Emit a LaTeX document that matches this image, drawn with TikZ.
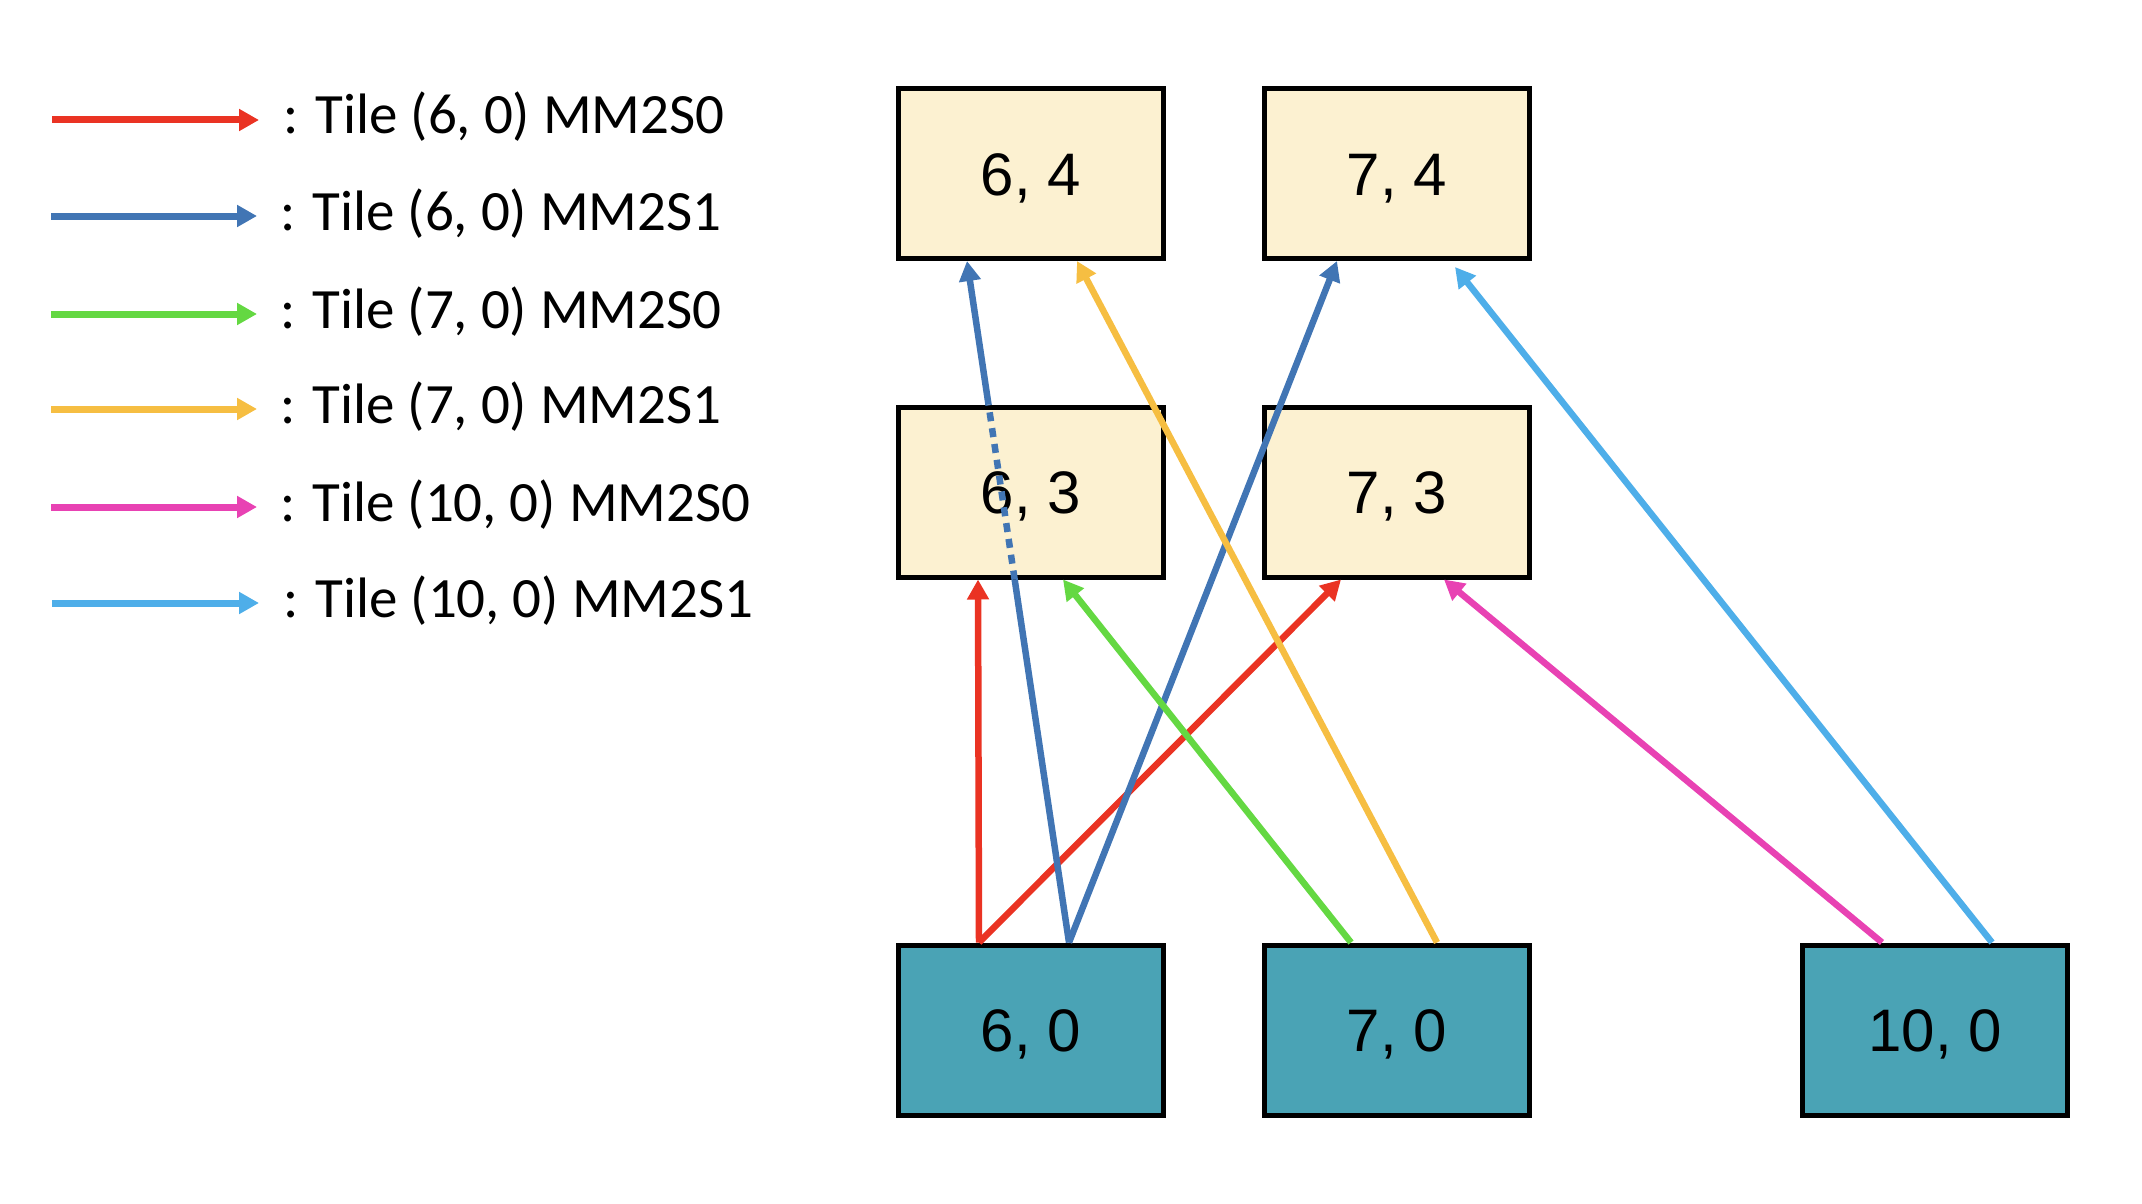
\documentclass[tikz,border=0pt]{standalone}
\usepackage{fontspec}
\setmainfont{Liberation Sans}
\newfontfamily\legendfont{Carlito}
\usetikzlibrary{arrows.meta,calc}
\definecolor{cred}{HTML}{EA3323}
\definecolor{cblue}{HTML}{4175B4}
\definecolor{cgreen}{HTML}{64D842}
\definecolor{cyellow}{HTML}{F6BE42}
\definecolor{cpink}{HTML}{E842B3}
\definecolor{clblue}{HTML}{4EAEE9}
\definecolor{cream}{HTML}{FCF1D1}
\definecolor{teal}{HTML}{4AA3B5}
\begin{document}
\begin{tikzpicture}[x=1pt,y=-1pt,
  tilebox/.style={draw=black, line width=5pt, minimum width=265pt, minimum height=170pt, inner sep=0pt, text height=43pt, text depth=0pt, font=\fontsize{60}{72}\selectfont},
  coretile/.style={tilebox, fill=cream},
  shimtile/.style={tilebox, fill=teal},
  flow/.style={line width=6.5pt, -{Triangle[length=20pt,width=21pt]}},
  plainflow/.style={line width=6.5pt},
  dotflow/.style={line width=6.5pt, dash pattern=on 9pt off 7pt},
  legarrow/.style={line width=7pt, -{Triangle[length=20pt,width=21pt]}},
  legtext/.style={anchor=base west, inner sep=0pt, font=\legendfont\fontsize{57}{68}\selectfont}]
\useasboundingbox (0,0) rectangle (2142,1204);

% legend
\coordinate (l1s) at (52,120);  \coordinate (l1e) at (259,120);
\coordinate (l2s) at (51,216);  \coordinate (l2e) at (257,216);
\coordinate (l3s) at (51,314);  \coordinate (l3e) at (257,314);
\coordinate (l4s) at (51,409);  \coordinate (l4e) at (257,409);
\coordinate (l5s) at (51,507);  \coordinate (l5e) at (257,507);
\coordinate (l6s) at (52,603);  \coordinate (l6e) at (259,603);
\draw[legarrow, cred] (l1s) -- (l1e);
\draw[legarrow, cblue] (l2s) -- (l2e);
\draw[legarrow, cgreen] (l3s) -- (l3e);
\draw[legarrow, cyellow] (l4s) -- (l4e);
\draw[legarrow, cpink] (l5s) -- (l5e);
\draw[legarrow, clblue] (l6s) -- (l6e);
\node[legtext] (t1) at (283,134) {: Tile (6, 0) MM2S0};
\node[legtext] (t2) at (280,230) {: Tile (6, 0) MM2S1};
\node[legtext] (t3) at (280,328) {: Tile (7, 0) MM2S0};
\node[legtext] (t4) at (280,423) {: Tile (7, 0) MM2S1};
\node[legtext] (t5) at (280,521) {: Tile (10, 0) MM2S0};
\node[legtext] (t6) at (283,617) {: Tile (10, 0) MM2S1};

% tiles
\node[coretile] (n64) at (1031,173.5) {6, 4};
\node[coretile] (n74) at (1397,173.5) {7, 4};
\node[coretile] (n63) at (1031,492) {6, 3};
\node[coretile] (n73) at (1397,492) {7, 3};
\node[shimtile] (n60) at (1031,1030) {6, 0};
\node[shimtile] (n70) at (1397,1030) {7, 0};
\node[shimtile] (n100) at (1935,1030) {10, 0};

% end points
\coordinate (r0) at ($(n60.north)+(-52,0)$);
\coordinate (b0) at ($(n60.north)+(38,0)$);
\coordinate (g0) at ($(n70.north)+(-46,0)$);
\coordinate (y0) at ($(n70.north)+(40,0)$);
\coordinate (p0) at ($(n100.north)+(-53,0)$);
\coordinate (c0) at ($(n100.north)+(57,0)$);

\coordinate (r1e) at ($(n63.south)+(-53,0)$);
\coordinate (r2e) at ($(n73.south)+(-56,0)$);
\coordinate (b1e) at ($(n64.south)+(-64,0)$);
\coordinate (b2e) at ($(n74.south)+(-60,0)$);
\coordinate (ge) at ($(n63.south)+(32,0)$);
\coordinate (ye) at ($(n64.south)+(46,0)$);
\coordinate (pe) at ($(n73.south)+(47,0)$);
\coordinate (ce) at ($(n74.south)+(58,6)$);

% flows
\draw[flow, cred] (r0) -- (r1e);
\draw[flow, cred] (r0) -- (r2e);
\coordinate (bd1) at ($(b0)!0.5327!(b1e)$);
\coordinate (bd2) at ($(b0)!0.7894!(b1e)$);
\draw[plainflow, cblue] (b0) -- (bd1);
\draw[dotflow, cblue] (bd1) -- (bd2);
\draw[flow, cblue] (bd2) -- (b1e);
\draw[flow, cblue] (b0) -- (b2e);
\draw[flow, cgreen] (g0) -- (ge);
\draw[flow, cyellow] (y0) -- (ye);
\draw[flow, cpink] (p0) -- (pe);
\draw[flow, clblue] (c0) -- (ce);
\end{tikzpicture}
\end{document}
